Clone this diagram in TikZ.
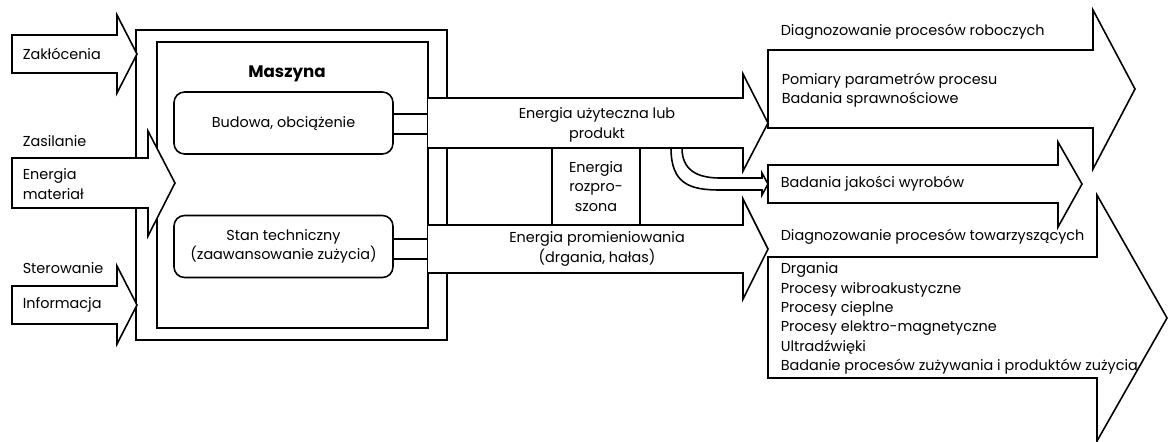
\documentclass[tikz,border=0pt]{standalone}
\usepackage{fontspec}
\setmainfont{Poppins}
\usetikzlibrary{positioning,calc}
\tikzset{every picture/.style={line width=0.9pt}}

\begin{document}
\begin{tikzpicture}[x=0.02cm,y=-0.02cm,
    txt/.style={anchor=west,inner sep=0pt,align=left,font=\fontsize{8.2}{11}\selectfont},
    ctxt/.style={inner sep=0pt,align=center,font=\fontsize{8.2}{11}\selectfont},
    part/.style={draw,rounded corners=6pt,minimum width=4.38cm,minimum height=1.24cm,
        inner sep=0pt,align=center,font=\fontsize{8.2}{11}\selectfont},
    frame/.style={draw,inner sep=0pt,outer sep=0pt},
    flow/.style={draw,fill=white,line join=miter}]
    \useasboundingbox (0,0) rectangle (1169,441);

    % maszyna
    \node[frame,minimum width=6.22cm,minimum height=6.2cm] (outer) at (291.5,185) {};
    \node[frame,minimum width=5.42cm,minimum height=5.72cm] (inner) at (292.5,185) {};
    \node[ctxt,font=\fontsize{9.5}{11}\selectfont\bfseries] (maszyna) at (287,74) {Maszyna};
    \node[part] (budowa) at (283.5,123) {Budowa, obciążenie};
    \node[part] (stan) at (283.5,246.5) {Stan techniczny\\(zaawansowanie zużycia)};
    \draw ([yshift=0.18cm]budowa.east) -- ([yshift=0.18cm]budowa.east -| inner.east);
    \draw ([yshift=-0.22cm]budowa.east) -- ([yshift=-0.22cm]budowa.east -| inner.east);
    \draw ([yshift=0.15cm]stan.east) -- ([yshift=0.15cm]stan.east -| inner.east);
    \draw ([yshift=-0.25cm]stan.east) -- ([yshift=-0.25cm]stan.east -| inner.east);

    % wejscia
    \foreach \yc in {54,305}
        \draw[flow] (12,\yc-19) -- (117,\yc-19) -- (117,\yc-39) -- (137,\yc)
            -- (117,\yc+39) -- (117,\yc+19) -- (12,\yc+19) -- cycle;
    \draw[flow] (12,158) -- (148,158) -- (148,131) -- (175,183) -- (148,236)
        -- (148,208) -- (12,208) -- cycle;
    \node[txt] (zakl) at (22,54) {Zakłócenia};
    \node[txt] (zasil) at (22,141) {Zasilanie};
    \node[txt] (energ) at (22,184) {Energia\\materiał};
    \node[txt] (sterow) at (22,268) {Sterowanie};
    \node[txt] (inform) at (22,305) {Informacja};

    % wyjscia
    \draw[flow] (428,98) -- (743,98) -- (743,74) -- (768,123) -- (743,171)
        -- (743,148) -- (428,148);
    \draw[flow] (428,225) -- (743,225) -- (743,199) -- (768,249) -- (743,299)
        -- (743,273) -- (428,273);
    \node[frame,minimum width=1.76cm,minimum height=1.54cm] (rozpr) at (596,186.5) {};
    \node[ctxt] at (rozpr) {Energia\\rozpro-\\szona};
    \node[ctxt] (uzyt) at (597,125) {Energia użyteczna lub\\produkt};
    \node[ctxt] (prom) at (597,249) {Energia promieniowania\\(drgania, hałas)};
    \draw[flow] (671,148) .. controls (671,184) and (690,190) .. (720,190) -- (762,190)
        -- (762,195) -- (768,184) -- (762,173) -- (762,178) -- (720,178)
        .. controls (697,178) and (682,170) .. (682,148) -- cycle;

    % diagnozowanie
    \draw[flow] (768,50) -- (1093,50) -- (1093,10) -- (1135,89) -- (1093,169)
        -- (1093,128) -- (768,128) -- cycle;
    \draw[flow] (768,165) -- (1058,165) -- (1058,142) -- (1082,184) -- (1058,227)
        -- (1058,203) -- (768,203) -- cycle;
    \draw[flow] (768,257) -- (1097,257) -- (1097,195) -- (1167,318) -- (1097,441)
        -- (1097,378) -- (768,378) -- cycle;
    \node[txt] (robocz) at (780,32) {Diagnozowanie procesów roboczych};
    \node[txt] (pomiar) at (781,90) {Pomiary parametrów procesu\\Badania sprawnościowe};
    \node[txt] (jakosc) at (780,184) {Badania jakości wyrobów};
    \node[txt] (towarz) at (780,237) {Diagnozowanie procesów towarzyszących};
    \node[txt,anchor=north west] (lista) at (780,262) {Drgania\\Procesy wibroakustyczne\\Procesy cieplne\\Procesy elektro-magnetyczne\\Ultradźwięki\\Badanie procesów zużywania i produktów zużycia};
\end{tikzpicture}
\end{document}
